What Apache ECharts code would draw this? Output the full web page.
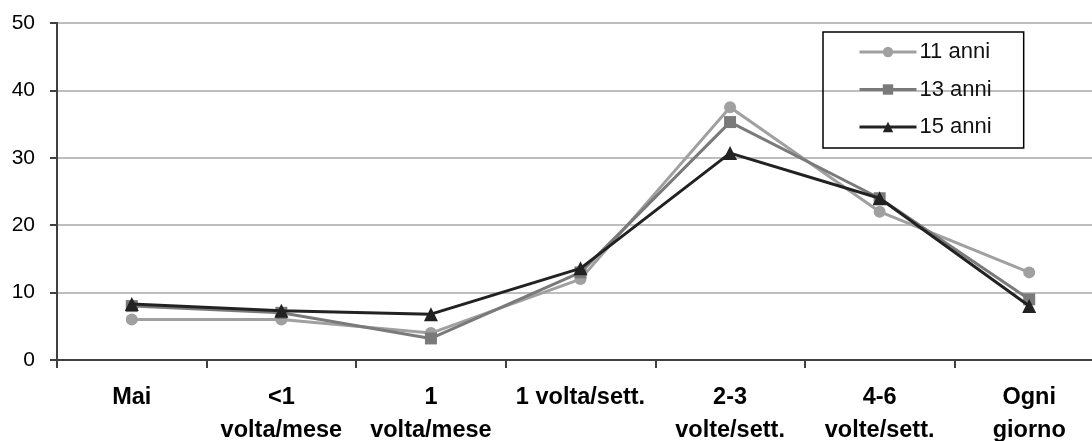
<!DOCTYPE html>
<html><head><meta charset="utf-8">
<script src="https://cdn.jsdelivr.net/npm/echarts@6/dist/echarts.min.js"></script>
<style>html,body{margin:0;padding:0;background:#fff}#c{width:1092px;height:441px}</style>
</head><body><div id="c"></div>
<script>
const categories = ["Mai", "<1\nvolta/mese", "1\nvolta/mese", "1 volta/sett.", "2-3\nvolte/sett.", "4-6\nvolte/sett.", "Ogni\ngiorno"];
const seriesNames = ["11 anni", "13 anni", "15 anni"];
const anni11 = [6, 6, 4, 12, 37.5, 22, 13];
const anni13 = [8, 7, 3.2, 13, 35.3, 24, 9];
const anni15 = [8.3, 7.3, 6.8, 13.6, 30.7, 24, 8];
const yTicks = [0, 10, 20, 30, 40, 50];

const chart = echarts.init(document.getElementById('c'));
const colors = ['#a0a0a0', '#7a7a7a', '#222222'];
const symbols = ['circle', 'rect', 'triangle'];
const data = [anni11, anni13, anni15];
chart.setOption({
  animation: false,
  grid: {left: 57, right: -12, top: 23, bottom: 81, containLabel: false, outerBoundsMode: 'none'},
  legend: {
    orient: 'vertical', left: 823, top: 32,
    data: seriesNames,
    borderColor: '#000', borderWidth: 1.5, padding: [9, 32, 10, 35],
    itemWidth: 57, itemHeight: 13, itemGap: 15.5,
    lineStyle: {width: 3},
    textStyle: {fontFamily: 'Liberation Sans', fontSize: 22, lineHeight: 22, color: '#111', padding: [0,0,0,-2]}
  },
  xAxis: {
    type: 'category', data: categories, boundaryGap: true,
    axisLine: {lineStyle: {color: '#404040', width: 2}},
    axisTick: {show: true, length: 8, lineStyle: {color: '#404040', width: 2}},
    axisLabel: {fontFamily: 'Liberation Sans', fontWeight: 'bold', fontSize: 23.5, color: '#000', margin: 21, lineHeight: 33, interval: 0}
  },
  yAxis: {
    type: 'value', min: yTicks[0], max: yTicks[yTicks.length-1], interval: 10,
    axisLine: {show: true, lineStyle: {color: '#404040', width: 2}},
    axisTick: {show: true, length: 7, lineStyle: {color: '#404040', width: 2}},
    splitLine: {lineStyle: {color: '#a8a8a8', width: 1.5}},
    axisLabel: {fontFamily: 'Liberation Sans', fontSize: 21, color: '#000', margin: 22}
  },
  series: data.map((d, i) => ({
    name: seriesNames[i], type: 'line', data: d,
    symbol: symbols[i], symbolSize: i === 2 ? 14 : 12,
    lineStyle: {color: colors[i], width: 3},
    itemStyle: {color: colors[i]},
    z: 2 + i
  }))
});
</script></body></html>
